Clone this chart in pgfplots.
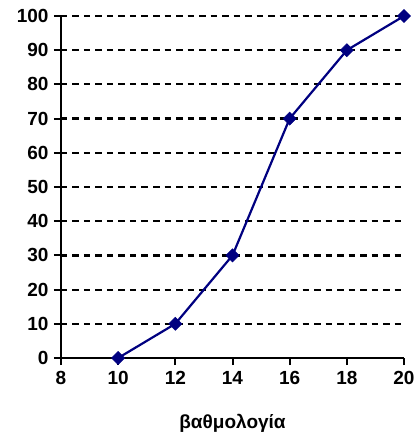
\documentclass[border=0pt]{standalone}
\usepackage{fontspec}
\setmainfont{Liberation Sans}[BoldFont={Liberation Sans Bold}]
\usepackage{pgfplots}
\pgfplotsset{compat=1.18}
\definecolor{navyline}{RGB}{0,0,128}
% bold 19pt face for every label of the chart
\newcommand\chartfont{\fontsize{19}{21}\selectfont\bfseries}
\begin{document}
\begin{tikzpicture}
\useasboundingbox (-61pt,-81pt) rectangle (356pt,358pt);
\begin{axis}[
  scale only axis,
  width=343pt, height=342pt,
  xmin=8, xmax=20, ymin=0, ymax=100,
  xtick={8,10,...,20},
  ytick={0,10,...,100},
  xticklabel={\chartfont\pgfmathprintnumber{\tick}},
  yticklabel={\chartfont\pgfmathprintnumber{\tick}},
  axis x line=bottom, axis y line=left,
  axis line style={-, line width=2pt, black},
  tick align=outside,
  major tick length=7pt,
  tick style={line width=2pt, black},
  ymajorgrids,
  major grid style={line width=2.2pt, dash pattern=on 6.5pt off 5pt, black},
  /pgf/number format/assume math mode=true,
  yticklabel style={xshift=-2pt},
  xticklabel style={yshift=-3pt},
  xlabel={\chartfont βαθμολογία},
  xlabel style={at={(axis description cs:0.5,0)}, anchor=center, yshift=-65pt},
  clip=false,
]
\addplot[navyline, line width=2.2pt, mark=square*, mark size=4.6pt,
  mark options={rotate=45, fill=navyline, draw=navyline, line width=0.6pt}]
  coordinates {(10,0) (12,10) (14,30) (16,70) (18,90) (20,100)};
\end{axis}
\end{tikzpicture}
\end{document}
